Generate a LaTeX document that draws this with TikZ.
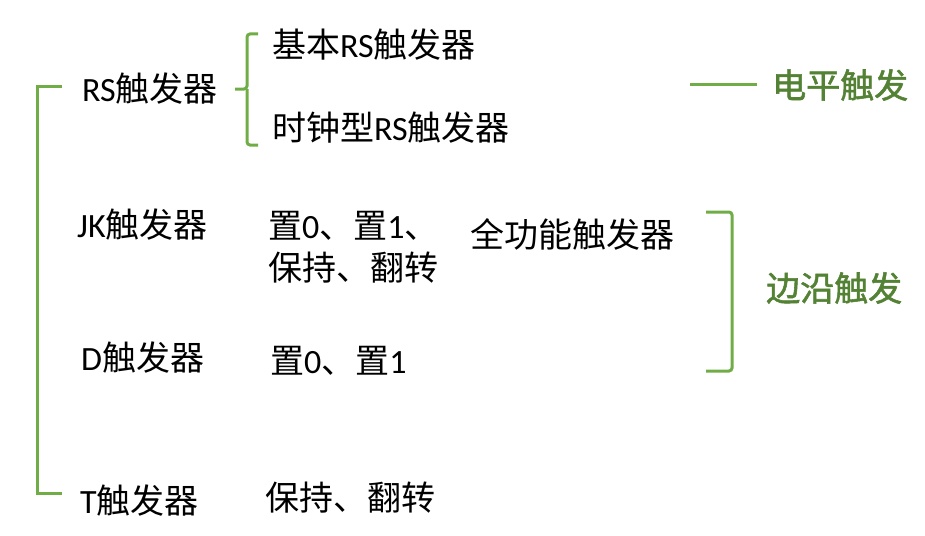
\documentclass[tikz,border=0pt]{standalone}
\usepackage{fontspec}
\setmainfont{Carlito}
\newfontfamily\cjk{Noto Sans CJK SC}
\newfontfamily\cjkg[FakeBold=1.6]{Noto Sans CJK SC}
\newcommand{\zh}[1]{{\fontsize{34}{40}\selectfont\cjk #1}}
\definecolor{brgreen}{HTML}{70AD47}
\definecolor{txgreen}{HTML}{548235}
\begin{document}
\begin{tikzpicture}[x=1pt,y=-1pt,
  lbl/.style={anchor=west,inner sep=0pt,font=\fontsize{34}{40}\selectfont},
  glbl/.style={anchor=west,inner sep=0pt,font=\fontsize{34}{40}\selectfont\cjkg,text=txgreen},
  brk/.style={draw=brgreen,line width=3pt}]
\useasboundingbox (0,0) rectangle (925,535);
% left column
\node[lbl] (rs) at (82,89) {RS\zh{触发器}};
\node[lbl] (jk) at (77,225) {JK\zh{触发器}};
\node[lbl] (d) at (81,358) {D\zh{触发器}};
\node[lbl] (t) at (80,501) {T\zh{触发器}};
% RS sub types
\node[lbl] (rsbasic) at (272,45) {\zh{基本}RS\zh{触发器}};
\node[lbl] (rsclock) at (272,128) {\zh{时钟型}RS\zh{触发器}};
% functions
\node[lbl] (jkf1) at (268,226) {\zh{置}0\zh{、置}1\zh{、}};
\node[lbl] (jkf2) at (268,268) {\zh{保持、翻转}};
\node[lbl] (full) at (470,234) {\zh{全功能触发器}};
\node[lbl] (df) at (270,361) {\zh{置}0\zh{、置}1};
\node[lbl] (tf) at (265,498) {\zh{保持、翻转}};
% trigger types
\node[glbl] (level) at (772,85) {电平触发};
\node[glbl] (edge) at (766,288) {边沿触发};
% left big bracket
\coordinate (lbt) at (62,86);
\coordinate (lbb) at (62,493);
\draw[brk] (lbt) -- (37,86) -- (37,493) -- (lbb);
% RS brace
\coordinate (bt) at (258,34);
\coordinate (bb) at (258,145);
\coordinate (btip) at (235,89);
\draw[brk,rounded corners=3pt] (bt) -- (247,34) -- (247,89) -- (btip);
\draw[brk,rounded corners=3pt] (bb) -- (247,145) -- (247,89);
% level line
\coordinate (ll) at (690,84);
\coordinate (lr) at (757,84);
\draw[brk] (ll) -- (lr);
% right bracket
\coordinate (rbt) at (706,212);
\coordinate (rbb) at (706,371);
\draw[brk,rounded corners=3pt] (rbt) -- (732,212) -- (732,371) -- (rbb);
\end{tikzpicture}
\end{document}
